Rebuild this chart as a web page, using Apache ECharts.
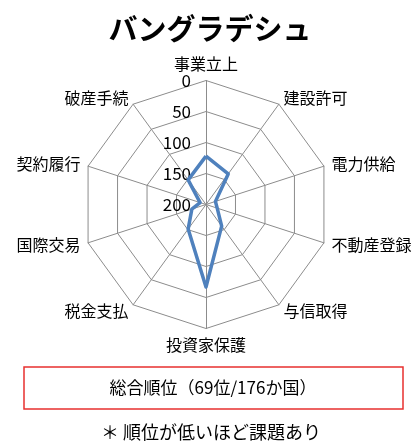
<!DOCTYPE html>
<html>
<head>
<meta charset="utf-8">
<script src="https://cdn.jsdelivr.net/npm/echarts@6/dist/echarts.min.js"></script>
<style>
  html, body { margin: 0; padding: 0; background: #fff; }
  #main { width: 420px; height: 442px; }
</style>
</head>
<body>
<div id="main"></div>
<script>
// 指標（上から時計回り）
const indicators = ['事業立上', '建設許可', '電力供給', '不動産登録', '与信取得',
  '投資家保護', '税金支払', '国際交易', '契約履行', '破産手続']
// 各指標の順位
const ranks = [122, 139, 184, 181, 157, 67, 151, 176, 190, 151]
const rankMax = 200
const tickLabels = ['200', '150', '100', '50', '0']

const font = '"Noto Sans CJK JP", sans-serif'

// echartsのレーダーは反時計回りなので、先頭以外を逆順にする
const order = [0].concat(indicators.map((_, i) => i).slice(1).reverse())

const myChart = echarts.init(document.getElementById('main'))
myChart.setOption({
  animation: false,
  title: {
    text: 'バングラデシュ',
    left: 'center',
    top: 9,
    textStyle: { fontFamily: font, fontSize: 29, fontWeight: 'bold', color: '#000' }
  },
  radar: {
    center: [206, 204.5],
    radius: 124,
    startAngle: 90,
    splitNumber: 4,
    shape: 'polygon',
    nameGap: 8,
    axisName: { color: '#000', fontFamily: font, fontSize: 16 },
    axisLine: { lineStyle: { color: '#8c8c8c', width: 1 } },
    splitLine: { lineStyle: { color: '#8c8c8c', width: 1 } },
    splitArea: { show: false },
    axisLabel: { show: false },
    indicator: order.map((idx, i) => ({
      name: indicators[idx],
      min: 0,
      max: rankMax,
      axisLabel: i === 0 ? {
        show: true,
        color: '#000',
        fontFamily: font,
        fontSize: 17,
        margin: 15,
        formatter: v => tickLabels[Math.round(v / 50)]
      } : { show: false }
    }))
  },
  series: [{
    type: 'radar',
    symbol: 'none',
    lineStyle: { color: '#4f81bd', width: 3.5 },
    // 順位が低いほど外側になるよう反転
    data: [{ value: order.map(idx => rankMax - ranks[idx]) }]
  }],
  graphic: [
    {
      type: 'rect',
      shape: { x: 24, y: 367, width: 379, height: 42 },
      style: { fill: '#fff', stroke: '#e8302f', lineWidth: 1.5 }
    },
    {
      type: 'text',
      x: 213, y: 388,
      style: {
        text: '総合順位（69位/176か国）',
        fill: '#000', font: '17px ' + font,
        textAlign: 'center', textVerticalAlign: 'middle'
      }
    },
    {
      type: 'text',
      x: 211, y: 432,
      style: {
        text: '＊ 順位が低いほど課題あり',
        fill: '#000', font: '18px ' + font,
        textAlign: 'center', textVerticalAlign: 'middle'
      }
    }
  ]
})
</script>
</body>
</html>
